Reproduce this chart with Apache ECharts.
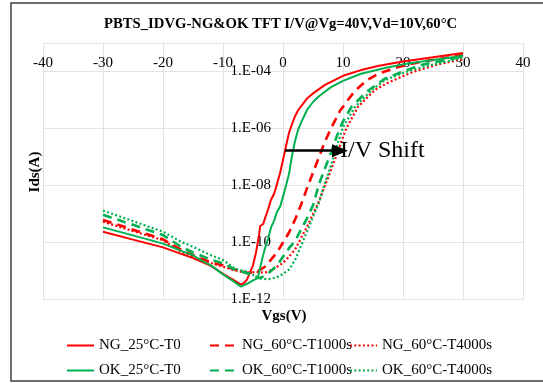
<!DOCTYPE html>
<html><head><meta charset="utf-8">
<script src="https://cdn.jsdelivr.net/npm/echarts@6/dist/echarts.min.js"></script>
<style>html,body{margin:0;padding:0;background:#fff}#c{width:543px;height:383px}</style>
</head><body><div id="c"></div>
<script>
const chartTitle = 'PBTS_IDVG-NG&OK TFT I/V@Vg=40V,Vd=10V,60°C';
const xTitle = 'Vgs(V)';
const yTitle = 'Ids(A)';
const seriesNames = ['NG_25°C-T0','NG_60°C-T1000s','NG_60°C-T4000s','OK_25°C-T0','OK_60°C-T1000s','OK_60°C-T4000s'];
const legendRow1 = ['NG_25°C-T0','NG_60°C-T1000s','NG_60°C-T4000s'];
const legendRow2 = ['OK_25°C-T0','OK_60°C-T1000s','OK_60°C-T4000s'];

const ng25 = [[-30,2.40e-10],[-25,1.26e-10],[-20,6.76e-11],[-15,2.82e-11],[-12,1.51e-11],[-10,7.94e-12],[-8,4.47e-12],[-7,3.31e-12],[-6.5,3.80e-12],[-6,5.01e-12],[-5.5,8.91e-12],[-5,1.58e-11],[-4.5,4.47e-11],[-4,1.78e-10],[-3.8,3.80e-10],[-3.3,4.47e-10],[-3,7.08e-10],[-2.5,1.41e-9],[-2,3.16e-9],[-1.5,5.01e-9],[-1,1.12e-8],[-0.5,2.69e-8],[0,7.94e-8],[0.5,2.40e-7],[1,7.08e-7],[1.5,1.41e-6],[2,2.69e-6],[2.5,4.27e-6],[3,6.03e-6],[4,1.12e-5],[5,1.70e-5],[7,3.39e-5],[10,7.08e-5],[13,1.12e-4],[16,1.58e-4],[20,2.24e-4],[25,3.16e-4],[30,4.47e-4]];
const ng1000 = [[-30,6.17e-10],[-25,2.82e-10],[-20,1.29e-10],[-17,5.62e-11],[-15,3.55e-11],[-12,2.00e-11],[-10,1.58e-11],[-8,1.12e-11],[-6,8.71e-12],[-5,8.91e-12],[-4,1.05e-11],[-3,1.41e-11],[-2,2.51e-11],[-1,4.47e-11],[0,1.00e-10],[1,2.24e-10],[2,6.31e-10],[3,2.09e-9],[4,7.94e-9],[5,2.82e-8],[6,1.00e-7],[7,3.55e-7],[8,1.00e-6],[9.5,4.17e-6],[11,1.12e-5],[12,2.09e-5],[14,5.01e-5],[16,8.51e-5],[19.5,1.51e-4],[23,2.19e-4],[30,3.80e-4]];
const ng4000 = [[-30,5.37e-10],[-25,2.51e-10],[-20,1.20e-10],[-17,4.79e-11],[-15,3.16e-11],[-12,1.91e-11],[-10,1.41e-11],[-8,1.05e-11],[-6,8.32e-12],[-4.5,9.33e-12],[-3,8.71e-12],[-1.5,1.20e-11],[0,1.91e-11],[1,3.16e-11],[2,5.62e-11],[3,1.41e-10],[4,3.55e-10],[5,1.00e-9],[6,2.82e-9],[7,1.00e-8],[8,3.55e-8],[9,1.26e-7],[10,5.01e-7],[10.6,1.05e-6],[12.5,5.75e-6],[15.3,2.24e-5],[17.3,3.89e-5],[21.7,9.77e-5],[26,1.82e-4],[30,2.69e-4]];
const ok25 = [[-30,3.39e-10],[-25,1.78e-10],[-20,9.12e-11],[-15,3.55e-11],[-13,2.00e-11],[-12,1.58e-11],[-10,7.59e-12],[-8,3.98e-12],[-7,2.82e-12],[-6,3.55e-12],[-5,4.68e-12],[-4.2,5.62e-12],[-3.5,2.51e-11],[-3,6.31e-11],[-2.5,1.32e-10],[-2,3.39e-10],[-1.5,5.62e-10],[-1,1.20e-9],[-0.5,1.78e-9],[0,3.98e-9],[0.5,1.00e-8],[1,2.51e-8],[1.5,1.12e-7],[2,3.55e-7],[2.5,8.91e-7],[3,1.58e-6],[4,4.47e-6],[5,8.51e-6],[6,1.35e-5],[8,2.82e-5],[10,4.68e-5],[13,8.32e-5],[17,1.32e-4],[20,1.78e-4],[25,2.51e-4],[30,3.55e-4]];
const ok1000 = [[-30,9.33e-10],[-25,4.17e-10],[-20,1.82e-10],[-17,7.08e-11],[-15,4.47e-11],[-12,2.51e-11],[-10,1.86e-11],[-8,1.12e-11],[-6,8.32e-12],[-5,7.08e-12],[-4,5.62e-12],[-3,6.76e-12],[-2,1.00e-11],[-1,1.58e-11],[0,3.16e-11],[1,6.31e-11],[2,1.12e-10],[3,2.82e-10],[4,7.08e-10],[5,2.00e-9],[6,1.12e-8],[7,3.98e-8],[8,1.41e-7],[9,5.62e-7],[10,1.78e-6],[11.4,5.75e-6],[14,2.00e-5],[17,5.62e-5],[20,1.00e-4],[23,1.70e-4],[30,3.31e-4]];
const ok4000 = [[-30,1.32e-9],[-25,5.62e-10],[-20,2.40e-10],[-17,1.07e-10],[-15,7.08e-11],[-12,3.55e-11],[-10,2.45e-11],[-8,1.20e-11],[-6,9.55e-12],[-4,5.50e-12],[-2.5,5.13e-12],[-1,6.03e-12],[0,7.94e-12],[1,1.12e-11],[2,2.40e-11],[3,7.59e-11],[4,2.40e-10],[5,7.94e-10],[6,2.51e-9],[7,1.26e-8],[8,5.01e-8],[9,2.51e-7],[10,1.12e-6],[12,5.75e-6],[14.8,2.24e-5],[17,5.01e-5],[20,8.91e-5],[23,1.41e-4],[30,3.02e-4]];

const shiftArrow = [[0.33,1.66e-7],[9.5,1.66e-7]];
const shiftLabel = 'I/V Shift';
const xTicks = [-40,-30,-20,-10,0,10,20,30,40];

const FONT = 'Liberation Serif';
const RED = '#FF0000', GREEN = '#00B050';
const styles = {
  'NG_25°C-T0': {color: RED, type: 'solid', width: 2},
  'NG_60°C-T1000s': {color: RED, type: [9, 6], width: 2.6},
  'NG_60°C-T4000s': {color: RED, type: [2, 2.3], width: 2.2},
  'OK_25°C-T0': {color: GREEN, type: 'solid', width: 2},
  'OK_60°C-T1000s': {color: GREEN, type: [9, 6], width: 2.6},
  'OK_60°C-T4000s': {color: GREEN, type: [2, 2.3], width: 2.2}
};
const dataMap = {
  'NG_25°C-T0': ng25, 'NG_60°C-T1000s': ng1000, 'NG_60°C-T4000s': ng4000,
  'OK_25°C-T0': ok25, 'OK_60°C-T1000s': ok1000, 'OK_60°C-T4000s': ok4000
};

const chart = echarts.init(document.getElementById('c'), null, {renderer: 'canvas'});

const series = seriesNames.map(n => {
  const s = {
    name: n, type: 'line', data: dataMap[n], showSymbol: false, symbol: 'none',
    lineStyle: {color: styles[n].color, width: styles[n].width, type: styles[n].type},
    itemStyle: {color: styles[n].color},
    emphasis: {disabled: true}, animation: false, z: 2
  };
  if (n === 'NG_25°C-T0') {
    s.markLine = {
      silent: true, animation: false,
      symbol: ['none', 'triangle'], symbolSize: [13, 16],
      lineStyle: {color: '#000', width: 2.5, type: 'solid'},
      label: {show: true, position: 'end', formatter: shiftLabel, fontFamily: FONT, fontSize: 24, color: '#000', distance: 0},
      emphasis: {disabled: true},
      data: [[{coord: shiftArrow[0]}, {coord: shiftArrow[1]}]]
    };
  }
  return s;
});

const colLefts = [66, 209, 349];
const rowTops = [338, 363];
const legends = [];
[legendRow1, legendRow2].forEach((row, r) => {
  row.forEach((name, c) => {
    legends.push({
      orient: 'horizontal', left: colLefts[c], top: rowTops[r], padding: 0,
      itemWidth: 27, itemHeight: 14, itemGap: 0,
      itemStyle: {opacity: 0},
      textStyle: {fontFamily: FONT, fontSize: 15, color: '#000'},
      selectedMode: false, data: [name]
    });
  });
});

chart.setOption({
  backgroundColor: '#fff',
  animation: false,
  title: {
    text: chartTitle, left: 99, top: 12,
    textStyle: {fontFamily: FONT, fontSize: 14.7, fontWeight: 'bold', color: '#000'}
  },
  grid: {left: 43, right: 20, top: 43, bottom: 83.5, containLabel: false},
  xAxis: {
    type: 'value', min: -40, max: 40, interval: 10, position: 'top',
    axisLine: {show: false, onZero: false}, axisTick: {show: false},
    axisLabel: {inside: true, margin: 13, fontFamily: FONT, fontSize: 15, color: '#000',
      formatter: v => xTicks.includes(v) ? String(v) : ''},
    splitLine: {show: true, lineStyle: {color: '#e3e3e3', width: 1}}
  },
  yAxis: {
    type: 'log', logBase: 10, min: 1e-12, max: 1e-3, interval: 2,
    position: 'left', offset: -240,
    axisLine: {show: false, onZero: false}, axisTick: {show: false},
    axisLabel: {margin: 12, fontFamily: FONT, fontSize: 15, color: '#000',
      formatter: v => {
        const e = Math.round(Math.log10(v));
        if (e === -3) return '';
        return '1.E-' + String(-e).padStart(2, '0');
      }},
    splitLine: {show: true, lineStyle: {color: '#e3e3e3', width: 1}}
  },
  legend: legends,
  graphic: [
    {type: 'rect', shape: {x: 11, y: 3, width: 540, height: 378}, style: {fill: 'none', stroke: '#404040', lineWidth: 1.5}, silent: true},
    {type: 'text', x: 284, y: 316, style: {text: xTitle, fontFamily: FONT, fontSize: 15, fontWeight: 'bold', fill: '#000', align: 'center', verticalAlign: 'middle'}},
    {type: 'text', x: 35, y: 172, rotation: Math.PI / 2, style: {text: yTitle, fontFamily: FONT, fontSize: 15, fontWeight: 'bold', fill: '#000', align: 'center', verticalAlign: 'middle'}}
  ],
  series: series
});
</script>
</body></html>
